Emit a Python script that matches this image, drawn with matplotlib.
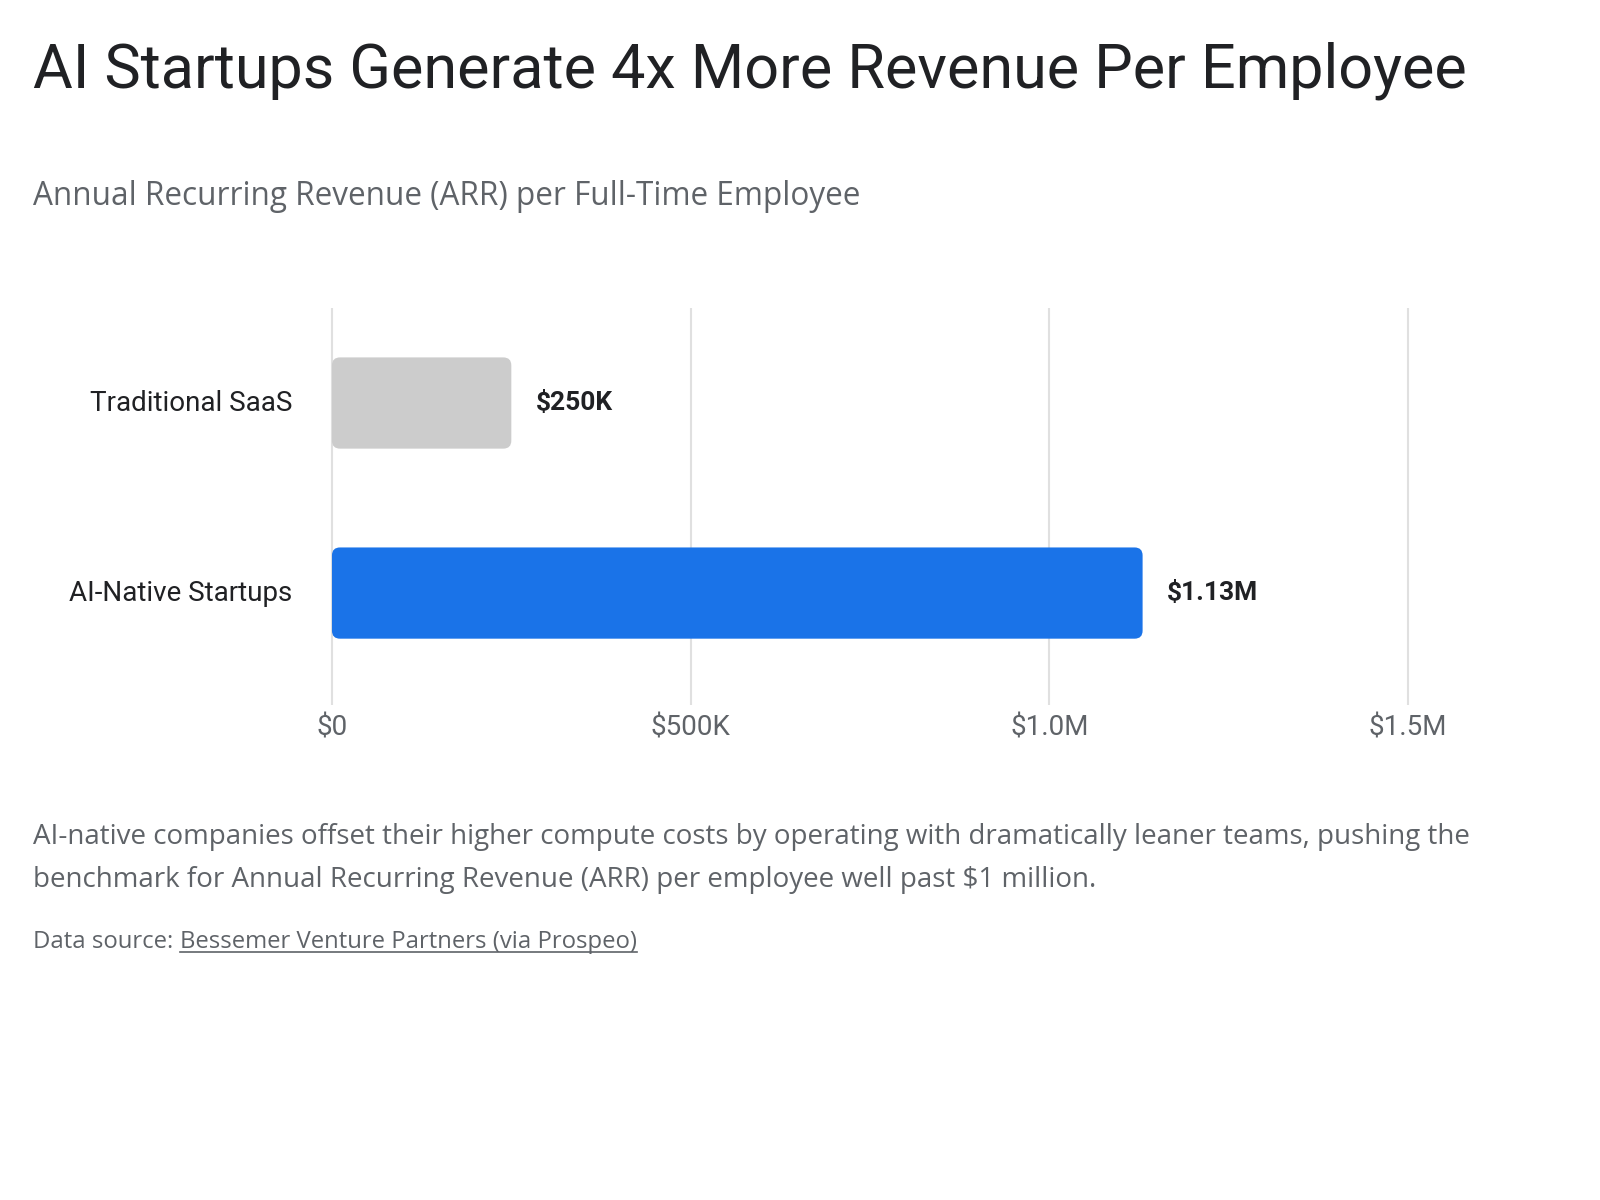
import matplotlib.pyplot as plt
from matplotlib.patches import FancyBboxPatch
from matplotlib.lines import Line2D
from matplotlib.transforms import ScaledTranslation

plt.rcParams['font.family'] = ['Roboto', 'DejaVu Sans']
body_font = ['Open Sans', 'DejaVu Sans']

categories = ['Traditional SaaS', 'AI-Native Startups']
arr_per_employee = [250000, 1130000]
value_labels = ['$250K', '$1.13M']
bar_colors = ['#cccccc', '#1a73e8']
tick_values = [0, 500000, 1000000, 1500000]
tick_labels = ['$0', '$500K', '$1.0M', '$1.5M']

title = 'AI Startups Generate 4x More Revenue Per Employee'
subtitle = 'Annual Recurring Revenue (ARR) per Full-Time Employee'
footnote_lines = [
    'AI-native companies offset their higher compute costs by operating with dramatically leaner teams, pushing the',
    'benchmark for Annual Recurring Revenue (ARR) per employee well past $1 million.',
]
source_prefix = 'Data source: '
source_link = 'Bessemer Venture Partners (via Prospeo)'

dark = '#202124'
grey = '#5f6368'

W, H = 1600, 1200
fig = plt.figure(figsize=(16, 12), dpi=100)

# axes placed in pixel terms of the reference
x0, x1 = -10000, 1510000
y_top, y_bot = -0.5, 1.589
ax = fig.add_axes([324.8 / W, 1 - 705 / H, 1090.4 / W, 397 / H])
ax.set_xlim(x0, x1)
ax.set_ylim(y_bot, y_top)

bars = ax.barh(range(len(categories)), arr_per_employee, height=0.48, color=bar_colors)

# swap plain bars for rounded ones
xu_per_px = (x1 - x0) / 1090.4
yu_per_px = (y_bot - y_top) / 397
radius_px = 8
for bar in bars:
    bar.set_visible(False)
    patch = FancyBboxPatch((bar.get_x(), bar.get_y()), bar.get_width(), bar.get_height(),
                           boxstyle=f'round,pad=0,rounding_size={radius_px * xu_per_px}',
                           mutation_aspect=yu_per_px / xu_per_px,
                           facecolor=bar.get_facecolor(), edgecolor='none', zorder=2)
    ax.add_patch(patch)

for i, (v, lab) in enumerate(zip(arr_per_employee, value_labels)):
    ax.annotate(lab, (v, i), xytext=(17.5, 0), textcoords='offset points',
                va='center', ha='left', fontsize=19, fontweight='bold', color=dark)

ax.set_xticks(tick_values)
ax.set_xticklabels(tick_labels, fontsize=20, color=grey)
ax.set_yticks(range(len(categories)))
ax.set_yticklabels(categories, fontsize=20, color=dark)
ax.tick_params(axis='x', length=0, pad=7)
ax.tick_params(axis='y', length=0, pad=23.5)
ax.xaxis.grid(True, color='#e0e0e0', linewidth=1.5)
ax.set_axisbelow(True)
for s in ax.spines.values():
    s.set_visible(False)
# nudge category labels up a little
for t in ax.get_yticklabels():
    t.set_transform(t.get_transform() + ScaledTranslation(0, 3 / 100, fig.dpi_scale_trans))

fig.text(33 / W, 1 - 88 / H, title, fontsize=44, color=dark, va='baseline')
fig.text(33 / W, 1 - 205 / H, subtitle, fontsize=22.7, color=grey, va='baseline', family=body_font)
fig.text(33 / W, 1 - 844 / H, footnote_lines[0], fontsize=20, color=grey, va='baseline', family=body_font)
fig.text(33 / W, 1 - 887 / H, footnote_lines[1], fontsize=20, color=grey, va='baseline', family=body_font)

src_y = 1 - 948 / H
prefix = fig.text(33 / W, src_y, source_prefix, fontsize=17.2, color=grey, va='baseline', family=body_font)
fig.canvas.draw()
r = fig.canvas.get_renderer()
pb = prefix.get_window_extent(r)
link = fig.text(pb.x1 / W, src_y, source_link, fontsize=17.2, color=grey, va='baseline', family=body_font)
fig.canvas.draw()
lb = link.get_window_extent(r)
uy = (H - 948 - 4) / H
fig.add_artist(Line2D([lb.x0 / W, lb.x1 / W], [uy, uy], color=grey, linewidth=1.2))

fig.savefig('out.png', dpi=100, facecolor='white')
